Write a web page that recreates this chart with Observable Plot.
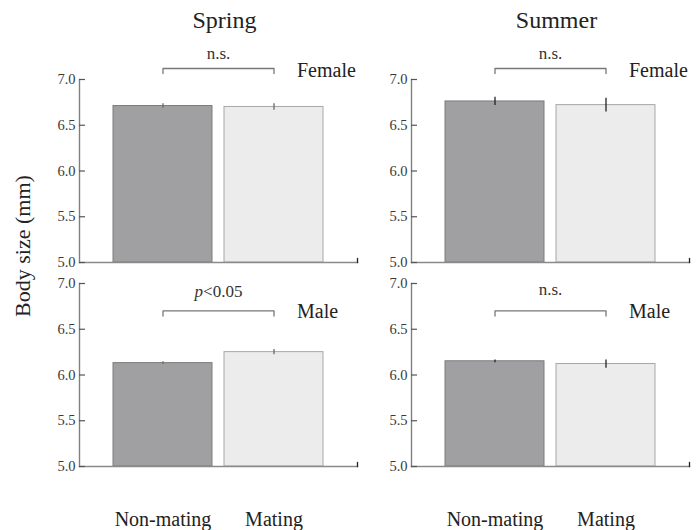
<!DOCTYPE html>
<html><head><meta charset="utf-8">
<script src="https://cdn.jsdelivr.net/npm/d3@7"></script>
<script src="https://cdn.jsdelivr.net/npm/@observablehq/plot@0.6"></script>
<style>
body{margin:0;background:#fff}
#chart svg, #chart svg text { font-family: "Liberation Serif", "Times New Roman", serif !important; }
#chart g[aria-label="y-axis tick label"], #chart g[aria-label="y-axis tick label"] text { font-size: 14.5px !important; }
</style>
</head><body><div id="chart"></div>
<script>
const seasons = ["Spring", "Summer"];
const sexes = ["Female", "Male"];
const groups = ["Non-mating", "Mating"];
// mean body size (mm) and error for [Non-mating, Mating]
const springFemaleMean = [6.71, 6.70];
const springFemaleErr  = [0.025, 0.035];
const summerFemaleMean = [6.76, 6.72];
const summerFemaleErr  = [0.045, 0.075];
const springMaleMean   = [6.13, 6.25];
const springMaleErr    = [0.015, 0.03];
const summerMaleMean   = [6.15, 6.12];
const summerMaleErr    = [0.015, 0.045];
const yTicks = [5.0, 5.5, 6.0, 6.5, 7.0];
// significance: [Spring-Female, Summer-Female, Spring-Male, Summer-Male]
const sigLabels = ["n.s.", "n.s.", "p<0.05", "n.s."];
const bracketLevel = [7.12, 7.12, 6.70, 6.70];
const sigLabelLevel = [7.28, 7.28, 6.91, 6.93];
const sexLabelLevel = [7.10, 7.10, 6.69, 6.69];

const panels = [
  {season: "Spring", sex: "Female", mean: springFemaleMean, err: springFemaleErr},
  {season: "Summer", sex: "Female", mean: summerFemaleMean, err: summerFemaleErr},
  {season: "Spring", sex: "Male", mean: springMaleMean, err: springMaleErr},
  {season: "Summer", sex: "Male", mean: summerMaleMean, err: summerMaleErr}
];
const rows = panels.flatMap(p => groups.map((g, i) => ({season: p.season, sex: p.sex, group: g, mean: p.mean[i], err: p.err[i]})));
const drop = 0.055;
const bracketPts = panels.flatMap((p, k) => [
  {key: k, season: p.season, sex: p.sex, group: groups[0], y: bracketLevel[k] - drop},
  {key: k, season: p.season, sex: p.sex, group: groups[0], y: bracketLevel[k]},
  {key: k, season: p.season, sex: p.sex, group: groups[1], y: bracketLevel[k]},
  {key: k, season: p.season, sex: p.sex, group: groups[1], y: bracketLevel[k] - drop}
]);
const sigRows = panels.map((p, k) => ({season: p.season, sex: p.sex, label: sigLabels[k], y: sigLabelLevel[k]}));
const sexRows = panels.map((p, k) => ({season: p.season, sex: p.sex, label: p.sex, group: groups[1], y: sexLabelLevel[k]}));

const W = 698, H = 530, mL = 79, mR = 9;
const panelW = 278, panelH = 183.5;
const serif = "Liberation Serif";

const chart = Plot.plot({
  width: W, height: H,
  marginLeft: mL, marginRight: mR, marginTop: 78, marginBottom: 64,
  style: {fontFamily: serif, fontSize: "14px", color: "#222", background: "#fff"},
  fx: {domain: seasons, paddingInner: 0.163, paddingOuter: 0},
  fy: {domain: sexes, paddingInner: 0.103, paddingOuter: 0, axis: null},
  x: {domain: groups, paddingInner: 0.107, paddingOuter: 0.299},
  y: {domain: [5, 7]},
  color: {domain: groups, range: ["#a0a0a2", "#ebeceb"]},
  marks: [
    Plot.barY(rows, {fx: "season", fy: "sex", x: "group", y1: () => 5, y2: "mean", fill: "group",
      stroke: d => d.group === groups[0] ? "#7c7c7e" : "#a6a7a6", strokeWidth: 1}),
    Plot.ruleX(rows, {fx: "season", fy: "sex", x: "group", y1: d => d.mean - d.err, y2: d => d.mean + d.err,
      stroke: d => d.season === "Spring" ? "#6a6a6a" : "#222", strokeWidth: 1.3}),
    Plot.frame({anchor: "left", stroke: "#7f7f7f", strokeWidth: 1.4}),
    Plot.frame({anchor: "bottom", stroke: "#8a8a8a", strokeWidth: 1.4}),
    Plot.frame({anchor: "right", insetTop: panelH - 4.5, stroke: "#222", strokeWidth: 1.3}),
    Plot.tickY(yTicks, {y: d => d, insetRight: panelW - 6, stroke: "#555", strokeWidth: 1.2}),
    Plot.axisY({ticks: yTicks, tickFormat: d3.format(".1f"), tickSize: 0, tickPadding: 4, fontSize: 14.5,
      fontFamily: serif, facetAnchor: null, label: null, fill: "#3a3a3a"}),
    Plot.axisX({anchor: "bottom", label: null, tickSize: 0, tickPadding: 45, fontSize: 20, fontFamily: serif, fill: "#222"}),
    Plot.axisFx({anchor: "top", label: null, tickSize: 0, tickPadding: 52, fontSize: 24, fontFamily: serif, fill: "#222", dx: 6}),
    Plot.line(bracketPts, {fx: "season", fy: "sex", x: "group", y: "y", z: "key", stroke: "#777", strokeWidth: 1.3}),
    Plot.text(sigRows, {fx: "season", fy: "sex", y: "y", text: "label", fontSize: 17, fontFamily: serif, fill: "#333"}),
    Plot.text(sexRows, {fx: "season", fy: "sex", x: "group", y: "y", text: "label", textAnchor: "start", dx: 23, fontSize: 20, fontFamily: serif, fill: "#222"}),
    Plot.text([{season: "Spring", sex: "Female", label: "Body size (mm)"}], {fx: "season", fy: "sex", text: "label",
      frameAnchor: "left", textAnchor: "middle", y: () => 5.18, dx: -57, rotate: -90, fontSize: 22, fontFamily: serif, fill: "#222"})
  ]
});
document.getElementById("chart").appendChild(chart);
// italic "p" in the significance label
chart.querySelectorAll("text").forEach(t => {
  if (t.textContent === "p<0.05") {
    t.textContent = "";
    const ns = "http://www.w3.org/2000/svg";
    const a = document.createElementNS(ns, "tspan");
    a.setAttribute("font-style", "italic");
    a.textContent = "p";
    t.appendChild(a);
    t.appendChild(document.createTextNode("<0.05"));
  }
});
</script>
</body></html>
